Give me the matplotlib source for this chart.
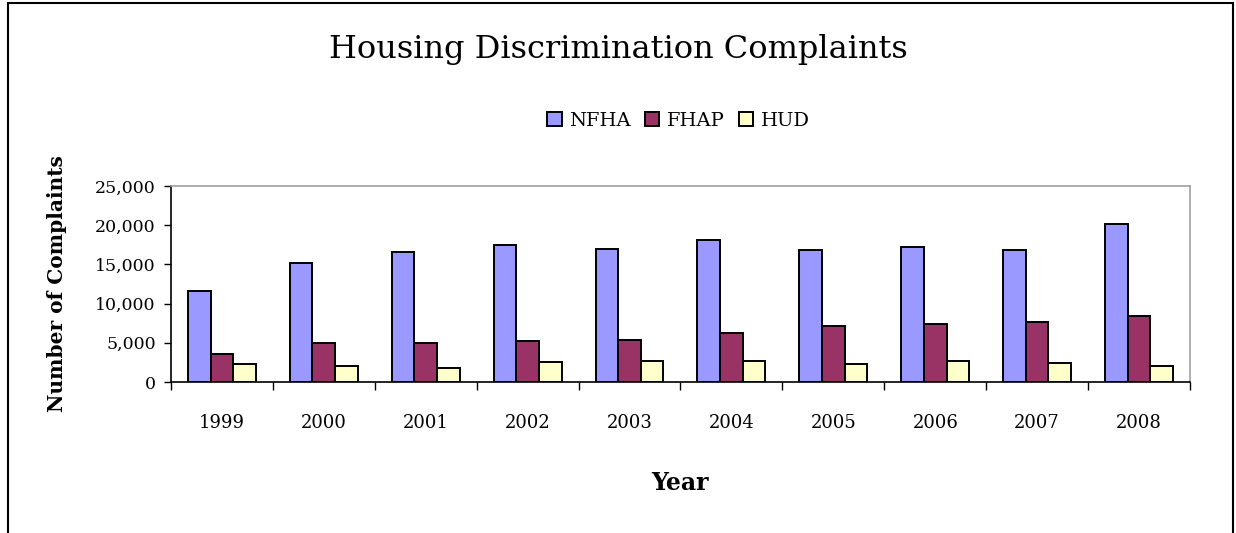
import numpy as np
import matplotlib.pyplot as plt
from matplotlib.patches import Rectangle
from matplotlib.ticker import FuncFormatter, FixedLocator

# data
years = ["1999", "2000", "2001", "2002", "2003", "2004", "2005", "2006", "2007", "2008"]
nfha = [11550, 15200, 16600, 17450, 17000, 18100, 16800, 17200, 16800, 20200]
fhap = [3600, 4950, 4950, 5200, 5350, 6300, 7100, 7450, 7650, 8400]
hud = [2250, 2050, 1800, 2500, 2700, 2700, 2250, 2700, 2450, 2000]

series = [("NFHA", nfha, "#9999FF"), ("FHAP", fhap, "#993366"), ("HUD", hud, "#FFFFCC")]

plt.rcParams["font.family"] = ["DejaVu Serif"]

fig = plt.figure(figsize=(12.36, 5.33), dpi=100)
ax = fig.add_axes([0.1383, 0.2833, 0.8245, 0.3677])

x = np.arange(len(years))
bw = 0.222
for i, (name, vals, col) in enumerate(series):
    ax.bar(x + (i - 1) * bw, vals, width=bw, color=col, edgecolor="black",
           linewidth=1.4, label=name, zorder=3)

ax.set_xlim(-0.5, len(years) - 0.5)
ax.set_ylim(0, 25000)
ax.set_yticks(np.arange(0, 25001, 5000))
ax.yaxis.set_major_formatter(FuncFormatter(lambda v, p: f"{int(v):,}"))
ax.tick_params(axis="y", labelsize=12.5, length=5, width=1, direction="out", pad=6)

# category labels centered, ticks on boundaries
ax.set_xticks(x)
ax.set_xticklabels(years, fontsize=13)
ax.tick_params(axis="x", which="major", length=0, pad=23)
ax.xaxis.set_minor_locator(FixedLocator(np.arange(-0.5, len(years), 1.0)))
ax.tick_params(axis="x", which="minor", length=6, width=1, direction="out")

for s in ["top", "right"]:
    ax.spines[s].set_color("#A0A0A0")
    ax.spines[s].set_linewidth(1.2)
for s in ["left", "bottom"]:
    ax.spines[s].set_color("black")
    ax.spines[s].set_linewidth(1.2)

ax.set_ylabel("Number of Complaints", fontsize=14.5, fontweight="bold", labelpad=20)
ax.set_xlabel("Year", fontsize=17, fontweight="bold", labelpad=28)

fig.text(0.5, 0.908, "Housing Discrimination Complaints", ha="center", va="center",
         fontsize=23)

ax.legend(loc="center", bbox_to_anchor=(0.549, 0.773), bbox_transform=fig.transFigure,
          ncol=3, frameon=False, fontsize=14, handlelength=0.75, handleheight=0.75,
          handletextpad=0.4, columnspacing=0.7)

# outer chart border
fig.patches.append(Rectangle((8 / 1236, -0.05), (1233 - 8) / 1236, 1.05 - 3 / 533,
                             transform=fig.transFigure, fill=False,
                             edgecolor="black", linewidth=1.5))

fig.savefig("out.png", dpi=100)
